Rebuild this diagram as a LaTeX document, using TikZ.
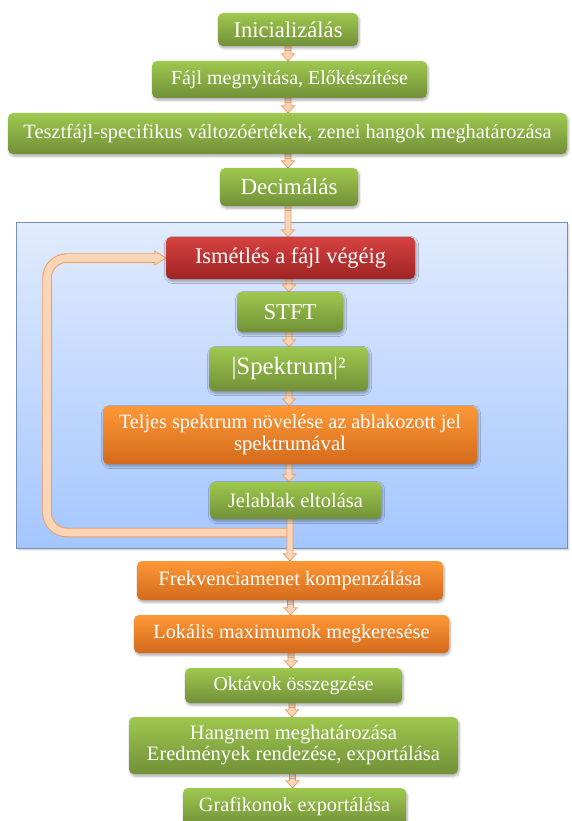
\documentclass[tikz,border=0pt]{standalone}
\usepackage{fontspec}
\setmainfont{Liberation Serif}
\usetikzlibrary{calc,shadows.blur}

\definecolor{greenTop}{RGB}{158,200,78}
\definecolor{greenBot}{RGB}{114,144,56}
\definecolor{redTop}{RGB}{214,66,64}
\definecolor{redBot}{RGB}{158,36,36}
\definecolor{orangeTop}{RGB}{253,152,54}
\definecolor{orangeBot}{RGB}{212,106,28}
\definecolor{panelTop}{RGB}{225,235,253}
\definecolor{panelBot}{RGB}{164,198,255}
\definecolor{panelEdge}{RGB}{118,144,180}
\definecolor{arrowFill}{RGB}{252,212,182}
\definecolor{arrowEdge}{RGB}{240,156,94}

\pgfdeclarelayer{underlay}
\pgfsetlayers{underlay,main}

\tikzset{
  stepbox/.style={rounded corners=5pt, inner sep=0pt, text=white, align=center,
    font=\fontsize{20}{22}\selectfont,
    blur shadow={shadow xshift=1pt, shadow yshift=-2pt, shadow blur radius=2.5pt, shadow opacity=35}},
  greenbox/.style={stepbox, top color=greenTop, bottom color=greenBot},
  redbox/.style={stepbox, top color=redTop, bottom color=redBot},
  orangebox/.style={stepbox, top color=orangeTop, bottom color=orangeBot},
  linkstyle/.style={fill=arrowFill, draw=arrowEdge, line width=0.7pt, line join=miter},
}

% text scaled to a given width (in pt)
\newcommand\wtext[2]{\resizebox{#1pt}{!}{#2}}

% small block arrow from the bottom of one node to the top of the next, at a given x
\newcommand\linkarrow[3]{%
  \path[linkstyle] let \p1=(#1.south), \p2=(#2.north) in
    (#3pt-3pt,\y1+2pt) -- (#3pt-3pt,\y2+7pt) -- (#3pt-6.5pt,\y2+7pt) -- (#3pt,\y2)
    -- (#3pt+6.5pt,\y2+7pt) -- (#3pt+3pt,\y2+7pt) -- (#3pt+3pt,\y1+2pt) -- cycle;}

\begin{document}
\begin{tikzpicture}[x=1pt, y=-1pt]
\useasboundingbox (0,0) rectangle (571,821);

\begin{scope}
\clip (0,0) rectangle (571,821);
% process steps
\node[greenbox, minimum width=140pt, minimum height=33pt] (init) at (288,29.5) {\wtext{109}{Inicializálás}};
\node[greenbox, minimum width=275pt, minimum height=37pt] (open) at (289.5,79.5) {\wtext{237}{Fájl megnyitása, Előkészítése}};
\node[greenbox, minimum width=559pt, minimum height=41pt] (vars) at (287.5,133.5) {\wtext{528}{Tesztfájl-specifikus változóértékek, zenei hangok meghatározása}};
\node[greenbox, minimum width=138pt, minimum height=38pt] (dec) at (289,187) {\wtext{97}{Decimálás}};
\node[redbox, minimum width=249pt, minimum height=42pt] (rep) at (290.5,258) {\wtext{191}{Ismétlés a fájl végéig}};
\node[greenbox, minimum width=106pt, minimum height=40pt] (stft) at (290,312) {\wtext{53}{STFT}};
\node[greenbox, minimum width=159pt, minimum height=44pt] (spec) at (288.5,369) {\wtext{114}{|Spektrum|²}};
\node[orangebox, minimum width=374pt, minimum height=58pt, font=\fontsize{18}{22}\selectfont] (accu) at (290,435)
  {\wtext{342}{Teljes spektrum növelése az ablakozott jel}\\\wtext{112}{spektrumával}};
\node[greenbox, minimum width=171pt, minimum height=37pt] (shift) at (295.5,500.5) {\wtext{135}{Jelablak eltolása}};
\node[orangebox, minimum width=306pt, minimum height=39pt] (comp) at (290,580.5) {\wtext{263}{Frekvenciamenet kompenzálása}};
\node[orangebox, minimum width=315pt, minimum height=38pt] (peak) at (291.5,634) {\wtext{276}{Lokális maximumok megkeresése}};
\node[greenbox, minimum width=217pt, minimum height=35pt] (oct) at (293.5,685.5) {\wtext{160}{Oktávok összegzése}};
\node[greenbox, minimum width=329pt, minimum height=57pt, font=\fontsize{18}{21}\selectfont] (key) at (293.5,745.5)
  {\wtext{207}{Hangnem meghatározása}\\\wtext{293}{Eredmények rendezése, exportálása}};
\node[greenbox, minimum width=223pt, minimum height=38pt] (plots) at (294.5,807) {\wtext{191}{Grafikonok exportálása}};
\end{scope}

\begin{pgfonlayer}{underlay}
  % loop frame with a soft shadow
  \fill[black!7] (18.5,225) rectangle (570,551);
  \fill[black!13] (17.5,223.5) rectangle (568.5,549.5);
  \shade[top color=panelTop, bottom color=panelBot] (16,222) rectangle (567,548);
  \draw[panelEdge, line width=0.8pt] (16,222) rectangle (567,548);

  % return path of the loop
  \coordinate (loopA) at (290,532.5);
  \coordinate (loopB) at (47,532.5);
  \coordinate (loopC) at (47,258);
  \draw[arrowEdge, line width=9.5pt, rounded corners=20pt]
    (loopA) -- (loopB) -- (loopC) -- ([xshift=-11pt]rep.west);
  \path[linkstyle] ([xshift=-11pt,yshift=7pt]rep.west) -- (rep.west) -- ([xshift=-11pt,yshift=-7pt]rep.west) -- cycle;
  \draw[arrowFill, line width=7.6pt, rounded corners=20pt]
    (loopA) -- (loopB) -- (loopC) -- ([xshift=-10pt]rep.west);

  % connectors between the steps
  \linkarrow{init}{open}{288}
  \linkarrow{open}{vars}{288}
  \linkarrow{vars}{dec}{288}
  \linkarrow{dec}{rep}{288}
  \linkarrow{rep}{stft}{289}
  \linkarrow{stft}{spec}{289}
  \linkarrow{spec}{accu}{289}
  \linkarrow{accu}{shift}{289}
  \linkarrow{shift}{comp}{290}
  \linkarrow{comp}{peak}{290.5}
  \linkarrow{peak}{oct}{291}
  \linkarrow{oct}{key}{292}
  \linkarrow{key}{plots}{292.5}
\end{pgfonlayer}
\end{tikzpicture}
\end{document}
